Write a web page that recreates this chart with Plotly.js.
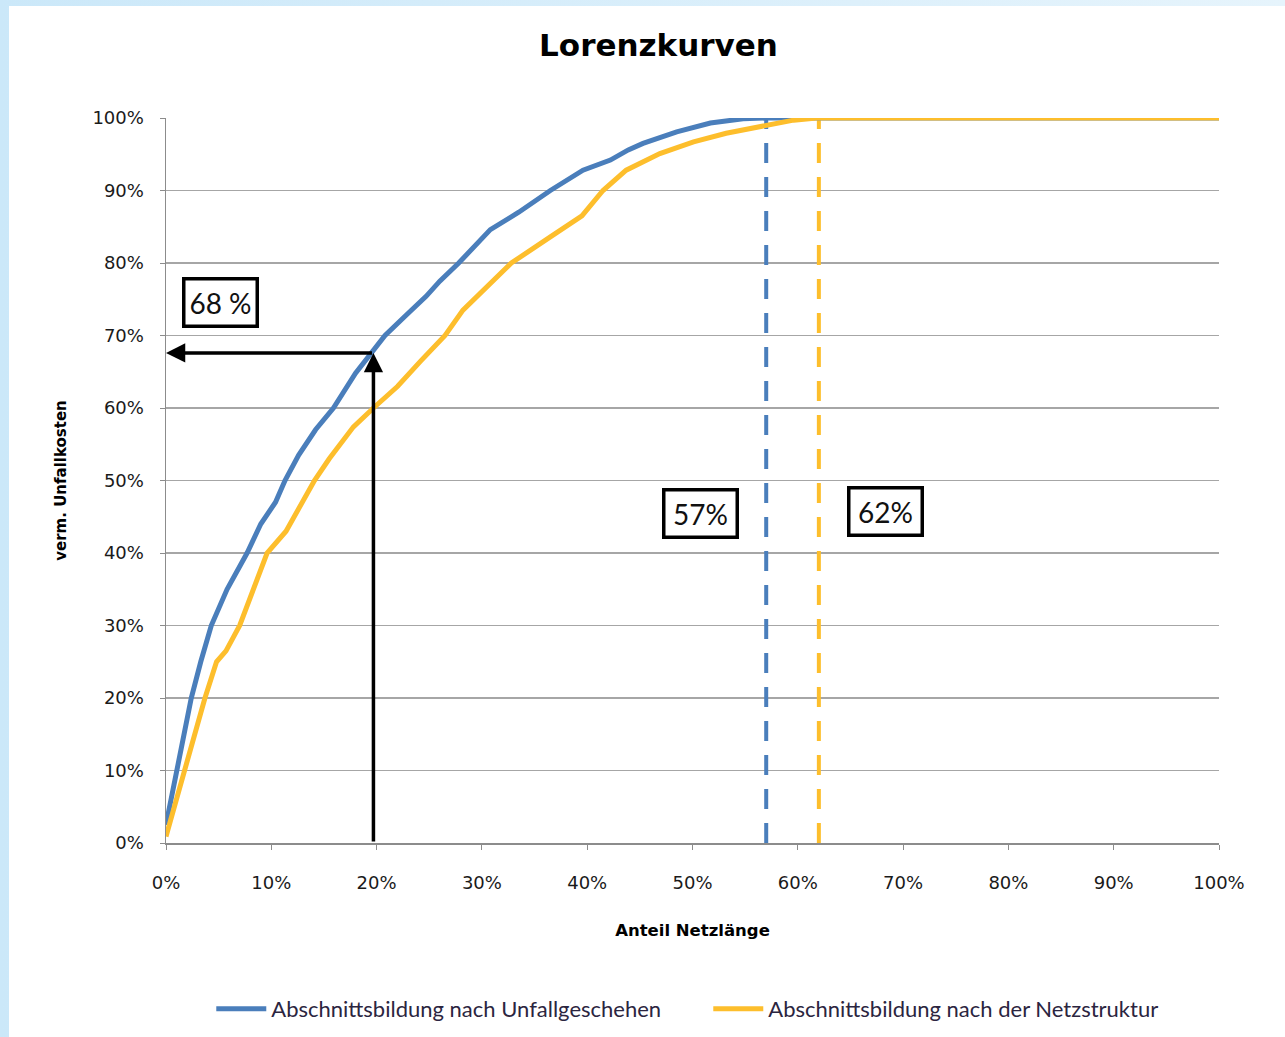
<!DOCTYPE html>
<html>
<head>
<meta charset="utf-8">
<script src="https://cdn.plot.ly/plotly-3.0.1.min.js"></script>
<style>
  html, body { margin:0; padding:0; width:1285px; height:1037px; overflow:hidden;
    background: linear-gradient(to right, #cbe8f9, #e6f4fc); }
  #chart { position:absolute; left:9px; top:6px; width:1276px; height:1031px; background:#fff; }
</style>
</head>
<body>
<div id="chart"></div>
<script>
// Anteil Netzlänge (%) / verm. Unfallkosten (%)
const blueX = [0, 0.5, 1.0, 1.7, 2.4, 3.3, 4.3, 5.8, 7.7, 9.0, 10.4, 11.3, 12.6, 14.2, 15.9, 18.0, 19.7, 20.8, 22.8, 24.7, 26.0, 27.8, 30.8, 33.5, 36.5, 39.6, 42.2, 43.9, 45.3, 48.5, 51.7, 54.8, 57.0, 100];
const blueY = [2.5, 6, 10, 15, 20, 25, 30, 35, 40, 44, 47, 50, 53.5, 57, 60, 64.8, 67.8, 70, 72.8, 75.4, 77.5, 80, 84.6, 87, 90, 92.8, 94.2, 95.6, 96.5, 98.1, 99.3, 99.9, 100, 100];
const yellowX = [0, 0.8, 1.8, 2.7, 3.7, 4.8, 5.7, 7.0, 8.3, 9.6, 11.4, 12.6, 14.1, 15.5, 17.8, 19.7, 22.0, 24.2, 26.5, 28.2, 30.3, 32.8, 36.5, 39.5, 41.5, 43.7, 46.9, 50.1, 53.2, 56.4, 59.6, 61.8, 100];
const yellowY = [0.9, 5, 10, 15, 20, 25, 26.5, 30, 35, 40, 43, 46, 50, 53, 57.4, 60, 63, 66.5, 70, 73.5, 76.5, 80, 83.6, 86.5, 90, 92.8, 95.1, 96.7, 97.9, 98.8, 99.7, 100, 100];
const seriesNames = ["Abschnittsbildung nach Unfallgeschehen", "Abschnittsbildung nach der Netzstruktur"];
// where each curve reaches 100 %
const blueFull = 57;
const yellowFull = 62;
// highlighted point
const markX = 19.7;
const markY = 67.6;
const labels = ["68 %", "57%", "62%"];
const tickVals = [0,10,20,30,40,50,60,70,80,90,100];
const tickText = tickVals.map(v => v + "%");

const BLUE = "#4A7EBB", YELLOW = "#FDBE2C";
const tickFont = {family:"DejaVu Sans, Verdana, sans-serif", size:18, color:"#1a1a1a"};

const traces = [
  {x:[blueFull, blueFull], y:[0, 100], mode:"lines", showlegend:false, hoverinfo:"skip",
   line:{color:BLUE, width:4, dash:"20px,14px"}},
  {x:[yellowFull, yellowFull], y:[0, 100], mode:"lines", showlegend:false, hoverinfo:"skip",
   line:{color:YELLOW, width:4, dash:"20px,14px"}},
  {x:blueX, y:blueY, mode:"lines", name:seriesNames[0], line:{color:BLUE, width:5}},
  {x:yellowX, y:yellowY, mode:"lines", name:seriesNames[1], line:{color:YELLOW, width:5}}
];

const boxFont = {family:"Lato, Open Sans, sans-serif", size:28, color:"#111"};
const layout = {
  width:1276, height:1031,
  paper_bgcolor:"#fff", plot_bgcolor:"#fff",
  margin:{l:157, r:66, t:112, b:194, autoexpand:false},
  title:{text:"<b>Lorenzkurven</b>", font:{family:"DejaVu Sans, Verdana, sans-serif", size:31, color:"#000"},
         xref:"container", x:0.509, yref:"container", y:0.962, yanchor:"middle", xanchor:"center"},
  xaxis:{range:[0,100], tickvals:tickVals, ticktext:tickText, showgrid:false, zeroline:false,
         showline:true, linecolor:"#8c8c8c", linewidth:1.5, ticks:"outside", ticklen:5, tickcolor:"#8c8c8c",
         tickfont:tickFont, ticklabelstandoff:18, automargin:false,
         title:{text:"<b>Anteil Netzlänge</b>", font:{family:"DejaVu Sans, Verdana, sans-serif", size:16.5, color:"#000"}, standoff:32}},
  yaxis:{range:[0,100], tickvals:tickVals, ticktext:tickText, showgrid:true, gridcolor:"#a6a6a6", gridwidth:1.3,
         zeroline:false, showline:true, linecolor:"#8c8c8c", linewidth:1.5, ticks:"outside", ticklen:5, tickcolor:"#8c8c8c",
         tickfont:tickFont, ticklabelstandoff:12, automargin:false,
         title:{text:"<b>verm. Unfallkosten</b>", font:{family:"DejaVu Sans, Verdana, sans-serif", size:15, color:"#000"}, standoff:22}},
  legend:{orientation:"h", x:0.043, xanchor:"left", y:-0.2, yanchor:"top",
          font:{family:"Lato, Open Sans, sans-serif", size:22, color:"#2b2540"},
          itemwidth:50, entrywidth:432, entrywidthmode:"pixels", bgcolor:"rgba(0,0,0,0)"},
  annotations:[
    {x:0, y:markY, ax:markX, ay:markY, xref:"x", yref:"y", axref:"x", ayref:"y", text:"",
     showarrow:true, arrowhead:2, arrowsize:1.1, arrowwidth:3.5, arrowcolor:"#000", standoff:0},
    {x:markX, y:markY, ax:markX, ay:0, xref:"x", yref:"y", axref:"x", ayref:"y", text:"",
     showarrow:true, arrowhead:2, arrowsize:1.1, arrowwidth:3.5, arrowcolor:"#000", standoff:0},
    {x:5.2, y:74.6, xref:"x", yref:"y", text:labels[0], showarrow:false, font:boxFont,
     bgcolor:"#fff", bordercolor:"#000", borderwidth:3.5, borderpad:2, width:66, height:40},
    {x:50.8, y:45.5, xref:"x", yref:"y", text:labels[1], showarrow:false, font:boxFont,
     bgcolor:"#fff", bordercolor:"#000", borderwidth:3.5, borderpad:2, width:66, height:40},
    {x:68.3, y:45.7, xref:"x", yref:"y", text:labels[2], showarrow:false, font:boxFont,
     bgcolor:"#fff", bordercolor:"#000", borderwidth:3.5, borderpad:2, width:66, height:40}
  ]
};
Plotly.newPlot("chart", traces, layout, {displayModeBar:false, staticPlot:true});
</script>
</body>
</html>
